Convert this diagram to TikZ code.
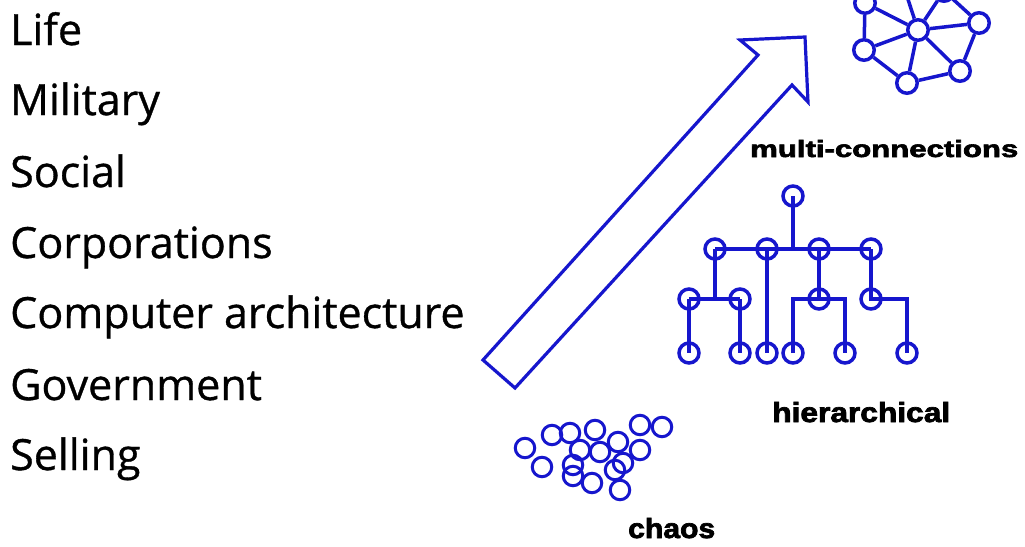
\documentclass[tikz,border=0pt]{standalone}
\usepackage{fontspec}
\setmainfont{Open Sans}
\newfontfamily\itemfont{Open Sans}[FakeBold=0.8]
\newfontfamily\labelfont{Liberation Sans Bold}[FakeBold=2.5]
\usepackage{graphicx}
\definecolor{netblue}{RGB}{22,22,205}
\begin{document}
\begin{tikzpicture}[x=1pt,y=-1pt,
  item/.style={anchor=base west, inner sep=0pt, font=\itemfont\fontsize{43}{52}\selectfont},
  lab/.style={anchor=base west, inner sep=0pt},
  link/.style={draw=netblue, line width=3.5pt},
  netnode/.style={circle, draw=netblue, line width=3.5pt, fill=white, minimum size=20.5pt, inner sep=0pt},
  treenode/.style={circle, draw=netblue, line width=3.5pt, minimum size=20pt, inner sep=0pt},
  chaosring/.style={circle, draw=netblue, line width=3pt, minimum size=19.5pt, inner sep=0pt},
  bigarrow/.style={draw=netblue, line width=3.2pt, line join=miter},
]
\useasboundingbox (0,0) rectangle (1025,546);
\clip (0,0) rectangle (1025,546);

% left column
\node[item] (t1) at (10,45)  {Life};
\node[item] (t2) at (10,115) {Military};
\node[item] (t3) at (10,187) {Social};
\node[item] (t4) at (10,258) {Corporations};
\node[item] (t5) at (10,328) {Computer architecture};
\node[item] (t6) at (10,400) {Government};
\node[item] (t7) at (10,470) {Selling};

% big arrow
\draw[bigarrow] (483,360) -- (758,55) -- (740,40) -- (805,37) -- (808,102) -- (792,85) -- (515,388) -- cycle;

% multi-connections network
\node[netnode] (nc) at (918,30) {};
\node[netnode] (na) at (865,3) {};
\node[netnode] (nl) at (864,50) {};
\node[netnode] (nb) at (907,83) {};
\node[netnode] (nbr) at (960,71) {};
\node[netnode] (nr) at (979,23) {};
\node[netnode] (nt1) at (901,-22) {};
\node[netnode] (nt2) at (944,-9) {};
\draw[link] (nc) -- (na);
\draw[link] (nc) -- (nl);
\draw[link] (nc) -- (nb);
\draw[link] (nc) -- (nbr);
\draw[link] (nc) -- (nr);
\draw[link] (nc) -- (nt1);
\draw[link] (nc) -- (nt2);
\draw[link] (na) -- (nl);
\draw[link] (nl) -- (nb);
\draw[link] (nb) -- (nbr);
\draw[link] (nbr) -- (nr);
\draw[link] (nr) -- (nt2);

% hierarchical tree
\node[treenode] (hr) at (793,196) {};
\node[treenode] (h1) at (715,249) {};
\node[treenode] (h2) at (767,249) {};
\node[treenode] (h3) at (819,249) {};
\node[treenode] (h4) at (871,249) {};
\node[treenode] (h5) at (689,299) {};
\node[treenode] (h6) at (740,299) {};
\node[treenode] (h7) at (819,299) {};
\node[treenode] (h8) at (871,299) {};
\node[treenode] (h9) at (689,353) {};
\node[treenode] (h10) at (740,353) {};
\node[treenode] (h11) at (767,353) {};
\node[treenode] (h12) at (793,353) {};
\node[treenode] (h13) at (845,353) {};
\node[treenode] (h14) at (907,353) {};
\draw[link] (hr.center) -- (hr.center |- h1.center);
\draw[link] (h1.center) -- (h4.center);
\draw[link] (h1.center) -- (h1.center |- h5.center);
\draw[link] (h5.center) -- (h6.center);
\draw[link] (h5.center) -- (h9.center);
\draw[link] (h6.center) -- (h10.center);
\draw[link] (h2.center) -- (h11.center);
\draw[link] (h3.center) -- (h7.center);
\draw[link] (h12.center) |- (h7.center) -| (h13.center);
\draw[link] (h4.center) -- (h8.center) -| (h14.center);

% chaos
\foreach \i/\x/\y in {1/525/448, 2/542/467, 3/552/435, 4/570/433, 5/580/450,
  6/573/465, 7/573/476, 8/595/430, 9/600/452, 10/592/483, 11/618/442,
  12/615/470, 13/623/463, 14/620/490, 15/640/425, 16/640/450, 17/662/427}
  \node[chaosring] (c\i) at (\x,\y) {};

% labels
\node[lab] (lm) at (750,157) {\resizebox{268pt}{17pt}{\labelfont multi-connections}};
\node[lab] (lh) at (772,422) {\resizebox{178pt}{20pt}{\labelfont hierarchical}};
\node[lab] (lc) at (628,538) {\resizebox{87pt}{20pt}{\labelfont chaos}};
\end{tikzpicture}
\end{document}
